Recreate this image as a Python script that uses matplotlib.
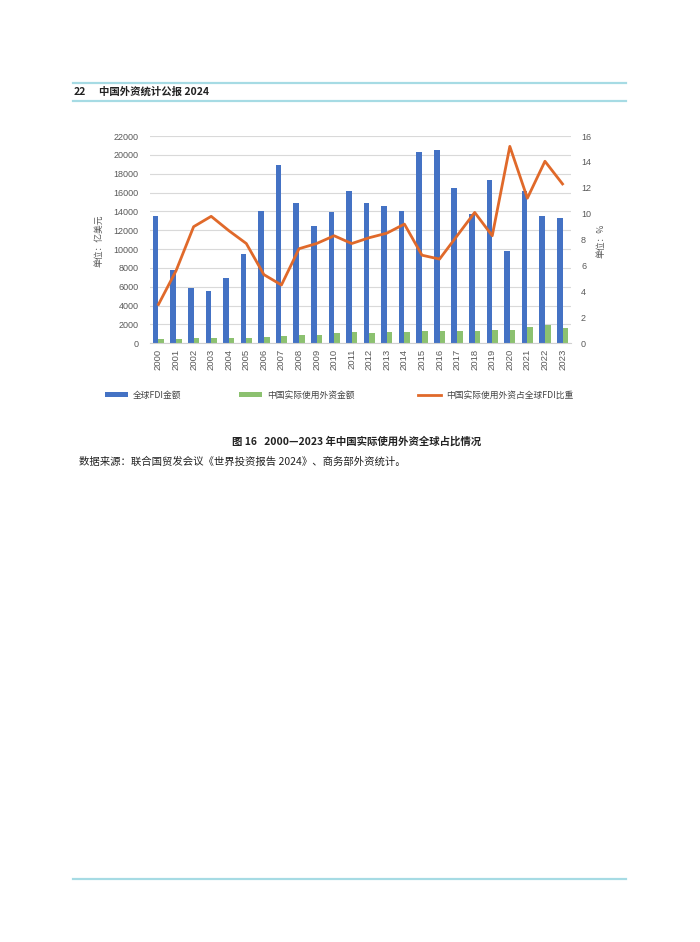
import numpy as np
import matplotlib
matplotlib.use("Agg")
import matplotlib.pyplot as plt
from matplotlib.lines import Line2D
from matplotlib.patches import Patch

plt.rcParams['font.family'] = ['Noto Sans CJK SC', 'DejaVu Sans']

years = [str(y) for y in range(2000, 2024)]
# 全球FDI金额 (亿美元)
global_fdi = [13560, 7740, 5900, 5500, 6900, 9500, 14000, 18900, 14900, 12400,
              13900, 16200, 14900, 14600, 14000, 20300, 20500, 16500, 13750, 17300,
              9800, 16200, 13500, 13300]
# 中国实际使用外资金额 (亿美元)
china_fdi = [407, 469, 527, 535, 606, 603, 630, 748, 924, 900,
             1057, 1160, 1117, 1176, 1196, 1263, 1260, 1310, 1350, 1381,
             1443, 1735, 1891, 1633]
# 中国实际使用外资占全球FDI比重 (%)
share = [3.0, 5.6, 9.0, 9.8, 8.7, 7.7, 5.3, 4.5, 7.3, 7.7,
         8.3, 7.7, 8.15, 8.5, 9.2, 6.8, 6.5, 8.3, 10.1, 8.3,
         15.2, 11.2, 14.05, 12.3]

W, H = 700, 942
BLUE = '#4472c4'
GREEN = '#8cc170'
ORANGE = '#e0692a'
TEAL = '#a6dbe4'
GREY = '#595959'
NUM_FONT = ['Liberation Sans', 'DejaVu Sans']


def fx(px):
    return px / W


def fy(py):
    return 1 - py / H


fig = plt.figure(figsize=(7, 9.42), dpi=100)
fig.patch.set_facecolor('white')

# 页眉与页脚线
for yy in (82.5, 100.5, 879):
    fig.add_artist(Line2D([fx(73), fx(626)], [fy(yy), fy(yy)], color=TEAL, lw=1.6,
                          transform=fig.transFigure))
fig.text(fx(74), fy(92), '22', fontsize=7.5, color='#222222', va='center', fontweight='bold')
fig.text(fx(99), fy(92), '中国外资统计公报 2024', fontsize=7.5, color='#222222', va='center',
         fontweight='bold')

ax = fig.add_axes([fx(149.7), fy(343.3), (571.3 - 149.7) / W, (343.3 - 136) / H])
x = np.arange(len(years))
bw = 0.32
ax.bar(x - bw / 2, global_fdi, width=bw, color=BLUE, zorder=2)
ax.bar(x + bw / 2, china_fdi, width=bw, color=GREEN, zorder=2)
ax.set_xlim(-0.5, len(years) - 0.5)
ax.set_ylim(0, 22000)
ax.set_yticks(range(0, 22001, 2000))
ax.set_xticks(x)
ax.set_xticklabels(years, rotation=90)
ax.grid(axis='y', color='#d9d9d9', lw=0.8, zorder=0)
ax.set_axisbelow(True)
for s in ('top', 'left', 'right'):
    ax.spines[s].set_visible(False)
ax.spines['bottom'].set_color('#d0d0d0')
ax.tick_params(axis='both', length=0, colors=GREY)
ax.tick_params(axis='y', pad=8, labelsize=6.5)
ax.tick_params(axis='x', pad=4, labelsize=6.8)
for t in ax.get_xticklabels() + ax.get_yticklabels():
    t.set_fontfamily(NUM_FONT)
ax.set_ylabel('单位：亿美元', fontsize=6.3, color=GREY)
ax.yaxis.set_label_coords(-0.111, 0.493)

ax2 = ax.twinx()
ax2.plot(x, share, color=ORANGE, lw=2, zorder=3)
ax2.set_ylim(0, 16)
ax2.set_yticks(range(0, 17, 2))
for s in ('top', 'left', 'right', 'bottom'):
    ax2.spines[s].set_visible(False)
ax2.tick_params(axis='y', length=0, labelsize=6.5, colors=GREY, pad=7)
for t in ax2.get_yticklabels():
    t.set_fontfamily(NUM_FONT)
ax2.set_ylabel('单位：%', fontsize=6.3, color=GREY)
ax2.yaxis.set_label_coords(1.059, 0.493)

# 图例
items = [
    (Patch(facecolor=BLUE), '全球FDI金额', 105),
    (Patch(facecolor=GREEN), '中国实际使用外资金额', 239),
    (Line2D([], [], color=ORANGE, lw=2), '中国实际使用外资占全球FDI比重', 418),
]
for h, lab, px in items:
    lg = fig.legend([h], [lab], loc='center left', bbox_to_anchor=(fx(px), fy(395)),
                    frameon=False, fontsize=6.3, handlelength=2.6, handleheight=0.5,
                    handletextpad=0.6, borderpad=0, borderaxespad=0)
    for t in lg.get_texts():
        t.set_color('#444444')

fig.text(fx(357), fy(441), '图 16   2000—2023 年中国实际使用外资全球占比情况', fontsize=7.5,
         color='#222222', ha='center', va='center', fontweight='bold')
fig.text(fx(79), fy(462), '数据来源：联合国贸发会议《世界投资报告 2024》、商务部外资统计。', fontsize=7.5,
         color='#222222', ha='left', va='center')

fig.savefig('out.png', dpi=100, facecolor='white')
